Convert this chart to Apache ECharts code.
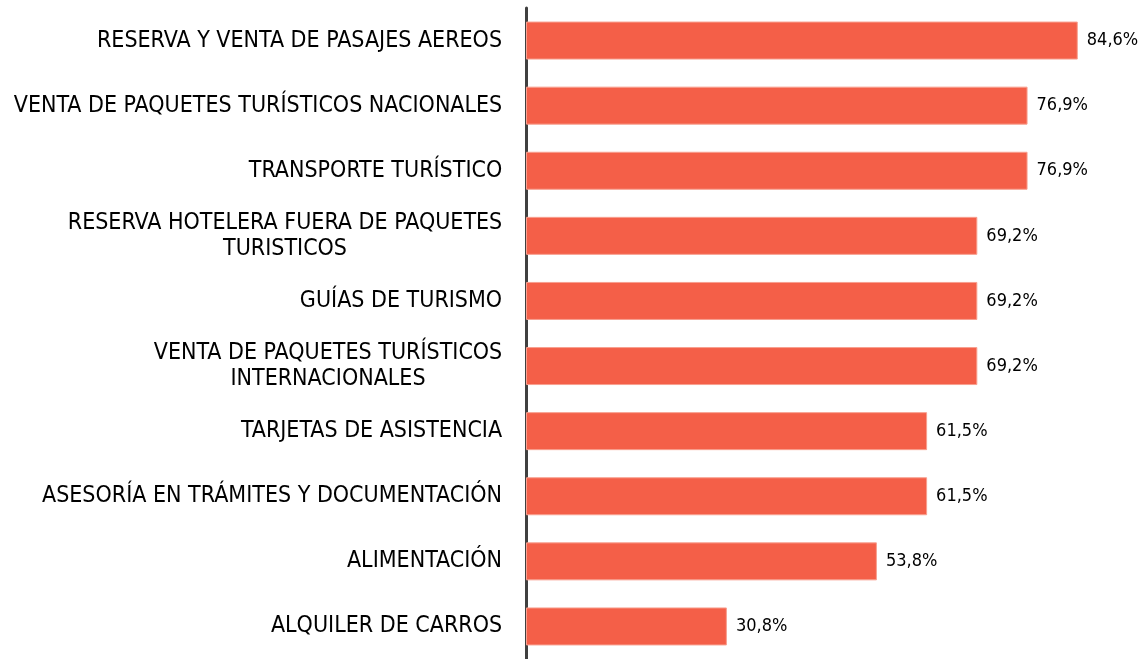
<!DOCTYPE html>
<html>
<head>
<meta charset="utf-8">
<script src="https://cdn.jsdelivr.net/npm/echarts@6/dist/echarts.min.js"></script>
<style>
  html, body { margin: 0; padding: 0; background: #fff; }
  #chart { width: 1143px; height: 659px; }
</style>
</head>
<body>
<div id="chart"></div>
<script>
// categorias (de arriba hacia abajo)
var categories = [
  'RESERVA Y VENTA DE PASAJES AEREOS',
  'VENTA DE PAQUETES TURÍSTICOS NACIONALES',
  'TRANSPORTE TURÍSTICO',
  'RESERVA HOTELERA FUERA DE PAQUETES\nTURISTICOS',
  'GUÍAS DE TURISMO',
  'VENTA DE PAQUETES TURÍSTICOS\nINTERNACIONALES',
  'TARJETAS DE ASISTENCIA',
  'ASESORÍA EN TRÁMITES Y DOCUMENTACIÓN',
  'ALIMENTACIÓN',
  'ALQUILER DE CARROS'
];
// porcentajes
var values = [84.6, 76.9, 76.9, 69.2, 69.2, 69.2, 61.5, 61.5, 53.8, 30.8];

var labelFont = 'DejaVu Sans Condensed';
var labelSize = 23;

// medir cada etiqueta para centrar las lineas dentro del bloque
var ctx = document.createElement('canvas').getContext('2d');
ctx.font = labelSize + 'px "' + labelFont + '"';
var rich = {};
categories.forEach(function (c, i) {
  var w = 0;
  c.split('\n').forEach(function (line) {
    w = Math.max(w, ctx.measureText(line).width);
  });
  rich['l' + i] = {
    width: Math.ceil(w) + 1,
    align: 'center',
    fontSize: labelSize,
    fontFamily: labelFont,
    color: '#000',
    lineHeight: 26
  };
});

var chart = echarts.init(document.getElementById('chart'));
var option = {
  animation: false,
  grid: { left: 526, right: 30, top: 8, bottom: -3, containLabel: false },
  xAxis: {
    type: 'value',
    min: 0,
    max: 90,
    show: false
  },
  yAxis: {
    type: 'category',
    inverse: true,
    data: categories,
    axisLine: { show: true, lineStyle: { color: '#404040', width: 3 } },
    axisTick: { show: false },
    axisLabel: {
      margin: 23,
      align: 'right',
      fontSize: labelSize,
      fontFamily: labelFont,
      color: '#000',
      lineHeight: 26,
      formatter: function (value, idx) {
        return value.split('\n').map(function (line) {
          return '{l' + idx + '|' + line + '}';
        }).join('\n');
      },
      rich: rich
    }
  },
  series: [{
    type: 'bar',
    data: values,
    barWidth: 38,
    itemStyle: { color: '#f45f48', borderColor: '#f8a090', borderWidth: 1 },
    label: {
      show: true,
      position: 'right',
      distance: 9,
      fontSize: 18,
      fontFamily: labelFont,
      color: '#000',
      formatter: function (p) {
        return p.value.toFixed(1).replace('.', ',') + '%';
      }
    }
  }]
};
chart.setOption(option);
</script>
</body>
</html>
